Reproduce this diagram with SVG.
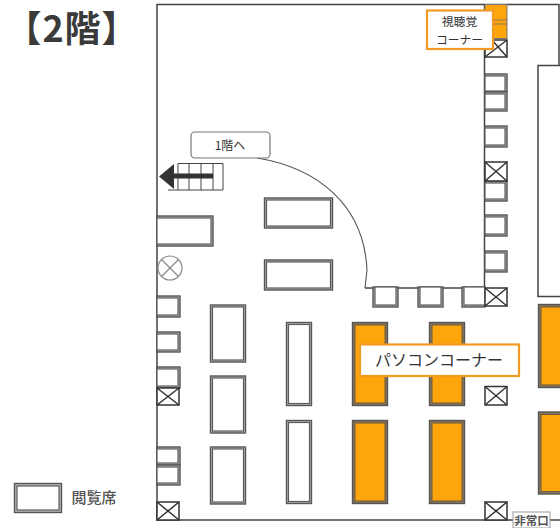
<svg xmlns="http://www.w3.org/2000/svg" width="560" height="528" viewBox="0 0 560 528">
<style>
text{font-family:"Noto Sans CJK JP","Liberation Sans",sans-serif;fill:#333;text-anchor:middle}
.w{fill:none;stroke:#444;stroke-width:1.5}
.o{fill:#b8b8b8;stroke:#555;stroke-width:1.4}
.i{fill:#fff;stroke:#5c5c5c;stroke-width:1.2}
.oo{fill:#8a7658;stroke:#555;stroke-width:1.4}
.oi{fill:#fea50c;stroke:#6b5a40;stroke-width:1}
.x{fill:#fff;stroke:#333;stroke-width:1.5}
.l{fill:#fff;stroke:#f29a22;stroke-width:2.200}
.t{fill:none;stroke:#444;stroke-width:1}
</style>
<rect width="560" height="528" fill="#fff"/>
<text id="title" x="72" y="42" font-size="36" font-weight="700" style="fill:#3a3a3a;letter-spacing:1px">【2階】</text>

<g id="walls">
<path class="w" d="M560 65.500H559V4.500H157V520H513M550 520H560M560 296.500H538V65.500H559"/>
<path class="w" d="M484.500 4.500V288H365"/>
</g>

<g id="connectors">
<path d="M257 158C318 168 364 205 367 270L365 288" fill="none" stroke="#555" stroke-width="1.100"/>
</g>

<g id="stairs">
<path class="t" d="M178 163.500H223V190H168M178 163.500V190M189 163.500V190M201 163.500V190M213 163.500V190"/>
<path d="M213 176H173" stroke="#333" stroke-width="5" fill="none"/>
<path d="M159 176.500L174 164V189Z" fill="#333"/>
</g>

<g id="desks-right">
<g id="d-r1"><rect class="o" x="485" y="74" width="22" height="18"/><rect class="i" x="485" y="76" width="20" height="15"/></g>
<g id="d-r2"><rect class="o" x="485" y="92" width="22" height="19"/><rect class="i" x="485" y="94" width="20" height="15"/></g>
<g id="d-r3"><rect class="o" x="485" y="126" width="22" height="21"/><rect class="i" x="485" y="128" width="20" height="17"/></g>
<g id="d-r4"><rect class="o" x="485" y="181" width="22" height="20"/><rect class="i" x="485" y="183" width="20" height="16"/></g>
<g id="d-r5"><rect class="o" x="485" y="215" width="22" height="21"/><rect class="i" x="485" y="217" width="20" height="17"/></g>
<g id="d-r6"><rect class="o" x="485" y="251" width="22" height="21"/><rect class="i" x="485" y="253" width="20" height="17"/></g>
</g>

<g id="desks-under">
<g id="d-u1"><rect class="o" x="373" y="287" width="25" height="20"/><rect class="i" x="375" y="287" width="21" height="18"/></g>
<g id="d-u2"><rect class="o" x="418" y="287" width="25" height="20"/><rect class="i" x="420" y="287" width="21" height="18"/></g>
<g id="d-u3"><rect class="o" x="462" y="287" width="23" height="20"/><rect class="i" x="464" y="287" width="21" height="18"/></g>
</g>

<g id="desks-left">
<g id="d-l1"><rect class="o" x="157" y="296" width="23" height="21"/><rect class="i" x="157" y="298" width="21" height="17"/></g>
<g id="d-l2"><rect class="o" x="157" y="332" width="23" height="20"/><rect class="i" x="157" y="334" width="21" height="16"/></g>
<g id="d-l3"><rect class="o" x="157" y="367" width="23" height="21"/><rect class="i" x="157" y="369" width="21" height="17"/></g>
<g id="d-l4"><rect class="o" x="157" y="447" width="23" height="18"/><rect class="i" x="157" y="449" width="21" height="14"/></g>
<g id="d-l5"><rect class="o" x="157" y="465" width="23" height="20"/><rect class="i" x="157" y="467" width="21" height="16"/></g>
<g id="d-l6"><rect class="o" x="157" y="216" width="56" height="30"/><rect class="i" x="157" y="218" width="54" height="26"/></g>
</g>

<g id="desks-center">
<g id="d-c1"><rect class="o" x="264.500" y="198" width="68" height="30"/><rect class="i" x="266.500" y="200" width="64" height="26"/></g>
<g id="d-c2"><rect class="o" x="264.500" y="260" width="68" height="30"/><rect class="i" x="266.500" y="262" width="64" height="26"/></g>
<g id="d-c3"><rect class="o" x="210.500" y="305" width="35" height="57"/><rect class="i" x="212.500" y="307" width="31" height="53"/></g>
<g id="d-c4"><rect class="o" x="210.500" y="376" width="35" height="57"/><rect class="i" x="212.500" y="378" width="31" height="53"/></g>
<g id="d-c5"><rect class="o" x="210.500" y="447" width="35" height="57"/><rect class="i" x="212.500" y="449" width="31" height="53"/></g>
<g id="d-c6"><rect class="o" x="286.500" y="322.500" width="25" height="83"/><rect class="i" x="288.500" y="324.500" width="21" height="79"/></g>
<g id="d-c7"><rect class="o" x="286.500" y="420.500" width="25" height="83"/><rect class="i" x="288.500" y="422.500" width="21" height="79"/></g>
</g>

<g id="pc-desks">
<g id="pc1"><rect class="oo" x="352.500" y="322.500" width="35" height="83"/><rect class="oi" x="355" y="325" width="30" height="78"/></g>
<g id="pc2"><rect class="oo" x="429.500" y="322.500" width="35" height="83"/><rect class="oi" x="432" y="325" width="30" height="78"/></g>
<g id="pc3"><rect class="oo" x="352.500" y="420.500" width="35" height="83"/><rect class="oi" x="355" y="423" width="30" height="78"/></g>
<g id="pc4"><rect class="oo" x="429.500" y="420.500" width="35" height="83"/><rect class="oi" x="432" y="423" width="30" height="78"/></g>
<g id="pc5"><rect class="oo" x="538.500" y="304.500" width="24" height="83"/><rect class="oi" x="541" y="307" width="24" height="78"/></g>
<g id="pc6"><rect class="oo" x="538.500" y="412" width="24" height="82"/><rect class="oi" x="541" y="414.500" width="24" height="77"/></g>
</g>

<g id="pillars">
<g id="p1"><rect class="x" x="485" y="40" width="22" height="17"/><path class="x" d="M485 57L507 40M492 40L507 57"/></g>
<g id="p2"><rect class="x" x="485" y="162" width="22" height="19"/><path class="x" d="M485 162L507 181M507 162L485 181"/></g>
<g id="p3"><rect class="x" x="485" y="288" width="22" height="18"/><path class="x" d="M485 288L507 306M507 288L485 306"/></g>
<g id="p4"><rect class="x" x="485" y="386.500" width="22" height="18.500"/><path class="x" d="M485 386.500L507 405M507 386.500L485 405"/></g>
<g id="p5"><rect class="x" x="485" y="502" width="22" height="18"/><path class="x" d="M485 502L507 520M507 502L485 520"/></g>
<g id="p6"><rect class="x" x="157" y="388" width="22" height="17"/><path class="x" d="M157 388L179 405M179 388L157 405"/></g>
<g id="p7"><rect class="x" x="157" y="502" width="22" height="18"/><path class="x" d="M157 502L179 520M179 502L157 520"/></g>
</g>

<g id="av-desk">
<rect x="485" y="4.500" width="22" height="34" fill="#fea50c" stroke="#777" stroke-width="1"/>
<path d="M494 20H507M494 24H507" stroke="#8a7658" stroke-width="1" fill="none"/>
</g>

<g id="fire-mark">
<circle cx="170" cy="268" r="12" fill="#fff" stroke="#888" stroke-width="1.200"/>
<path d="M161.500 259.500L178.500 276.500M178.500 259.500L161.500 276.500" stroke="#888" stroke-width="1.200"/>
</g>

<g id="label-av">
<rect class="l" x="427" y="10.500" width="66" height="38.500"/>
<text x="459.500" y="26" font-size="11.800">視聴覚</text>
<text x="459.500" y="43.500" font-size="11.800">コーナー</text>
</g>

<g id="label-pc">
<rect class="l" x="360" y="344.500" width="159" height="31.500"/>
<text x="439" y="366" font-size="16">パソコンコーナー</text>
</g>

<g id="label-stairs">
<rect x="191" y="132" width="79" height="26" rx="4" fill="#fff" stroke="#777" stroke-width="1.200"/>
<text x="230" y="150" font-size="12">1階へ</text>
</g>

<g id="label-exit">
<rect x="513" y="512" width="37" height="16" fill="#fff" stroke="#999" stroke-width="1"/>
<text x="531.500" y="525" font-size="11.500" font-weight="700" style="fill:#555">非常口</text>
</g>

<g id="legend">
<rect class="o" x="14.500" y="483.500" width="47" height="29"/>
<rect class="i" x="17" y="486" width="42" height="24"/>
<text x="94" y="503" font-size="15" font-weight="500" style="fill:#555">閲覧席</text>
</g>
</svg>
